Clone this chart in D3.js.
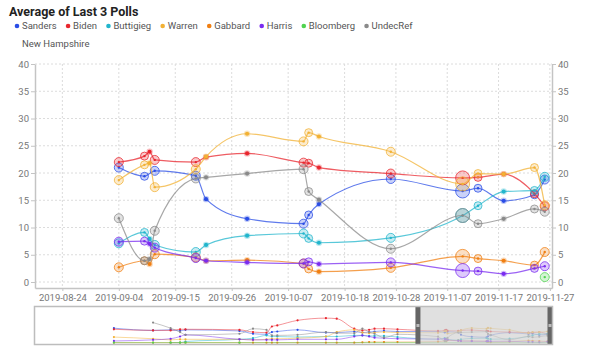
<!DOCTYPE html>
<html><head><meta charset="utf-8">
<script src="https://cdn.jsdelivr.net/npm/d3@7"></script>
<style>
body{margin:0;background:#fff;}
svg{display:block;font-family:Roboto, "Noto Sans", sans-serif;}
</style></head><body>
<svg id="chart" width="600" height="351"></svg>
<script>
// ---------- data ----------
const seriesNames = ["Sanders","Biden","Buttigieg","Warren","Gabbard","Harris","Bloomberg","UndecRef"];
const seriesColors = ["#2a4de6","#e8262e","#22b5cc","#f2b134","#f07f12","#7a2cf0","#4fd34f","#8a8a8a"];
const chartTitle = "Average of Last 3 Polls";
const subTitle = "New Hampshire";

const dates = ["2019-09-04","2019-09-09","2019-09-10","2019-09-11","2019-09-19","2019-09-21","2019-09-29",
  "2019-10-10","2019-10-11","2019-10-13","2019-10-27","2019-11-10","2019-11-13","2019-11-18","2019-11-24","2019-11-26"];
const ringSizes = [4.5, 4, 0, 4.5, 4.5, 0, 0, 4.5, 4, 0, 4.5, 7, 4, 0, 4, 4.5];

const sanders   = [21.0, 19.4, null, 20.4, 19.5, 15.2, 11.6, 10.7, 12.3, 14.3, 18.9, 16.7, 17.2, 14.9, 16.0, 18.8];
const biden     = [22.0, 23.1, 23.9, 22.4, 22.0, 22.9, 23.6, 21.9, 21.8, 21.0, 19.9, 19.1, 19.2, 19.8, 16.2, 13.9];
const buttigieg = [7.1, 9.1, 7.9, 6.8, 5.5, 6.8, 8.5, 8.9, 8.0, 7.2, 8.1, 12.2, 14.0, 16.6, 16.8, 19.3];
const warren    = [18.7, 21.5, 21.8, 17.4, 20.7, 23.0, 27.2, 25.8, 27.4, 26.7, 23.9, 18.0, 19.9, 19.8, 21.0, 14.1];
const gabbard   = [2.7, 3.9, 3.3, 5.1, 4.5, 3.9, 4.0, 3.4, 2.4, 1.9, 2.6, 4.7, 4.3, 3.9, 3.1, 5.5];
const harris    = [7.4, 7.5, 7.0, 6.3, 4.4, 3.9, 3.6, 3.4, 3.7, 3.3, 3.6, 2.1, 2.0, 1.5, 2.5, 2.9];
const bloomberg = [null, null, null, null, null, null, null, null, null, null, null, null, null, null, null, 0.9];
const undecRef  = [11.7, 3.9, 4.2, 9.4, 19.0, 19.2, 19.9, 20.7, 16.6, 15.1, 6.1, 12.2, 10.7, 11.6, 13.4, 12.9];

const yTicks = [0, 5, 10, 15, 20, 25, 30, 35, 40];
const xTickLabels = ["2019-08-24","2019-09-04","2019-09-15","2019-09-26","2019-10-07","2019-10-18",
  "2019-10-28","2019-11-07","2019-11-17","2019-11-27"];
const mainDomain = ["2019-08-18T16:00","2019-11-27T10:00"];
const overviewStart = "2018-11-09T14:00";

// overview (brush) chart: earlier polls
const ovDates = ["2019-01-07","2019-02-05","2019-02-18","2019-02-25","2019-03-01","2019-04-10","2019-04-20",
  "2019-04-30","2019-05-04","2019-05-08","2019-05-23","2019-06-13","2019-06-21","2019-07-04","2019-07-10",
  "2019-07-15","2019-07-19","2019-07-26","2019-08-05"];
const ovSanders   = [27, 23, 24, 22, 24, 22, 17, 16, 20, 21, 24, 19, 19, 21, 19, 20, 21, 22, 21];
const ovBiden     = [25, 23, 23, 25, 25, 24, 20, 19, 30, 32, 41, 45, 44, 26, 23, 24, 26, 26, 25];
const ovButtigieg = [null, null, 1, 1, 3, 7, 9, 14, 12, 12, 11, 12, 12, 14, 14, 13, 13, 13, 11];
const ovWarren    = [11, 8, 6, 7, 7, 7, 6, 7, 8, 8, 9, 12, 20, 24, 19, 18, 19, 20, 19];
const ovGabbard   = [1, 1, 1, 1, 1, 1, 1, 1, 1, 1, 1, 1, 1, 1, 1.5, 2, 2, 2, 2];
const ovHarris    = [4, 6, 8, 12, 15, 7, 6, 6, 6, 6, 7, 7, 7, 12, 14, 12, 10, 9, 8];
const ovBloomberg = [1, 1, 1, 1, 1, 1, null, null, null, null, null, null, null, null, null, null, null, null, null];
const ovUndecRef  = [null, 37, 27, 20, 15, 17, 26, 24, 14, 14, 15, 20, 18, 18, 26, 20, 17, 10, 16];

const mainValues = [sanders, biden, buttigieg, warren, gabbard, harris, bloomberg, undecRef];
const ovValues = [ovSanders, ovBiden, ovButtigieg, ovWarren, ovGabbard, ovHarris, ovBloomberg, ovUndecRef];

// ---------- drawing ----------
const svg = d3.select("#chart");
const parse = s => new Date(s);
const L = 35, R = 552, T = 64, B = 288;

svg.append("text").attr("x", 9).attr("y", 16).attr("font-size", 12.5).attr("font-weight", 700)
  .attr("fill", "#222").text(chartTitle);

// legend
const leg = svg.append("g");
let lx = 17;
seriesNames.forEach((n, i) => {
  leg.append("circle").attr("cx", lx).attr("cy", 26).attr("r", 2.3).attr("fill", seriesColors[i]);
  const t = leg.append("text").attr("x", lx + 5).attr("y", 26).attr("dy", "0.35em")
    .attr("font-size", 9.5).attr("fill", "#555").text(n);
  lx += 5 + t.node().getComputedTextLength() + 11.5;
});
svg.append("text").attr("x", 22).attr("y", 43.5).attr("dy", "0.35em").attr("font-size", 9.5)
  .attr("fill", "#555").text(subTitle);

const x = d3.scaleTime().domain(mainDomain.map(parse)).range([L, R]);
const y = d3.scaleLinear().domain([-1.1, 40]).range([B, T]);

// grid
const grid = svg.append("g").attr("stroke", "#dcdcdc").attr("stroke-dasharray", "2,2").attr("stroke-width", 1);
yTicks.forEach(v => grid.append("line").attr("x1", L).attr("x2", R).attr("y1", y(v)).attr("y2", y(v)));
xTickLabels.forEach(d => grid.append("line").attr("x1", x(parse(d))).attr("x2", x(parse(d))).attr("y1", T).attr("y2", B));

function styleAxis(g) {
  g.selectAll(".domain").attr("stroke", "#c4c4c4").attr("stroke-width", 1.5);
  g.selectAll(".tick line").attr("stroke", "#c4c4c4");
  g.selectAll("text").attr("fill", "#777").attr("font-size", 9.5).attr("font-family", "Roboto, sans-serif");
}
svg.append("g").attr("transform", `translate(${L},0)`)
  .call(d3.axisLeft(y).tickValues(yTicks).tickSize(4).tickSizeOuter(0).tickPadding(2)).call(styleAxis);
svg.append("g").attr("transform", `translate(${R},0)`)
  .call(d3.axisRight(y).tickValues(yTicks).tickSize(4).tickSizeOuter(0).tickPadding(2)).call(styleAxis);
svg.append("g").attr("transform", `translate(0,${B})`)
  .call(d3.axisBottom(x).tickValues(xTickLabels.map(parse)).tickFormat(d3.timeFormat("%Y-%m-%d"))
    .tickSize(3).tickSizeOuter(0).tickPadding(3)).call(styleAxis);

// lines
const line = d3.line().x(d => x(d.date)).y(d => y(d.v)).curve(d3.curveMonotoneX);
seriesNames.forEach((n, i) => {
  const pts = dates.map((d, j) => ({date: parse(d), v: mainValues[i][j], r: ringSizes[j]})).filter(p => p.v != null);
  const c = seriesColors[i];
  svg.append("path").datum(pts).attr("d", line).attr("fill", "none").attr("stroke", c)
    .attr("stroke-width", 1.2).attr("stroke-opacity", 0.75);
  const g = svg.append("g");
  pts.forEach(p => {
    if (p.r > 0) {
      g.append("circle").attr("cx", x(p.date)).attr("cy", y(p.v)).attr("r", p.r)
        .attr("fill", c).attr("fill-opacity", 0.25).attr("stroke", c).attr("stroke-opacity", 0.75).attr("stroke-width", 1);
      g.append("circle").attr("cx", x(p.date)).attr("cy", y(p.v)).attr("r", 1.2).attr("fill", c);
    } else {
      g.append("circle").attr("cx", x(p.date)).attr("cy", y(p.v)).attr("r", 3.2).attr("fill", c).attr("fill-opacity", 0.3);
      g.append("circle").attr("cx", x(p.date)).attr("cy", y(p.v)).attr("r", 2.1).attr("fill", c);
    }
  });
});

// overview chart
const MT = 307, MB = 344;
const xm = d3.scaleTime().domain([parse(overviewStart), parse(mainDomain[1])]).range([L, R]);
const ym = d3.scaleLinear().domain([0, 65]).range([343.2, MT]);
svg.append("defs").append("clipPath").attr("id", "mclip").append("rect")
  .attr("x", L).attr("y", MT).attr("width", R - L).attr("height", MB - MT);
const mg = svg.append("g").attr("clip-path", "url(#mclip)");
const mline = d3.line().x(d => xm(d.date)).y(d => ym(d.v)).curve(d3.curveMonotoneX);
seriesNames.forEach((n, i) => {
  const pts = ovDates.map((d, j) => ({date: parse(d), v: ovValues[i][j]}))
    .concat(dates.map((d, j) => ({date: parse(d), v: mainValues[i][j]})))
    .filter(p => p.v != null);
  const c = seriesColors[i];
  mg.append("path").datum(pts).attr("d", mline).attr("fill", "none").attr("stroke", c)
    .attr("stroke-width", 0.9).attr("stroke-opacity", 0.55);
  pts.forEach(p => mg.append("circle").attr("cx", xm(p.date)).attr("cy", ym(p.v)).attr("r", 1.1).attr("fill", c));
});
// brush selection
const s0 = xm(parse(mainDomain[0])), s1 = xm(parse(mainDomain[1]));
svg.append("rect").attr("x", s0).attr("y", MT).attr("width", s1 - s0).attr("height", MB - MT)
  .attr("fill", "#cfcfcf").attr("fill-opacity", 0.65);
[s0, s1].forEach((sx, k) => {
  const hx = k === 0 ? sx - 0.5 : sx - 4.5;
  svg.append("rect").attr("x", hx).attr("y", MT - 1).attr("width", 5).attr("height", MB - MT + 2).attr("fill", "#666");
  svg.append("rect").attr("x", hx + 1).attr("y", (MT + MB) / 2 - 1.5).attr("width", 3).attr("height", 3).attr("fill", "#bbb");
});
svg.append("rect").attr("x", L - 0.5).attr("y", MT - 0.5).attr("width", R - L + 1).attr("height", MB - MT + 1)
  .attr("fill", "none").attr("stroke", "#bdbdbd").attr("stroke-width", 1.5);
</script>
</body></html>
